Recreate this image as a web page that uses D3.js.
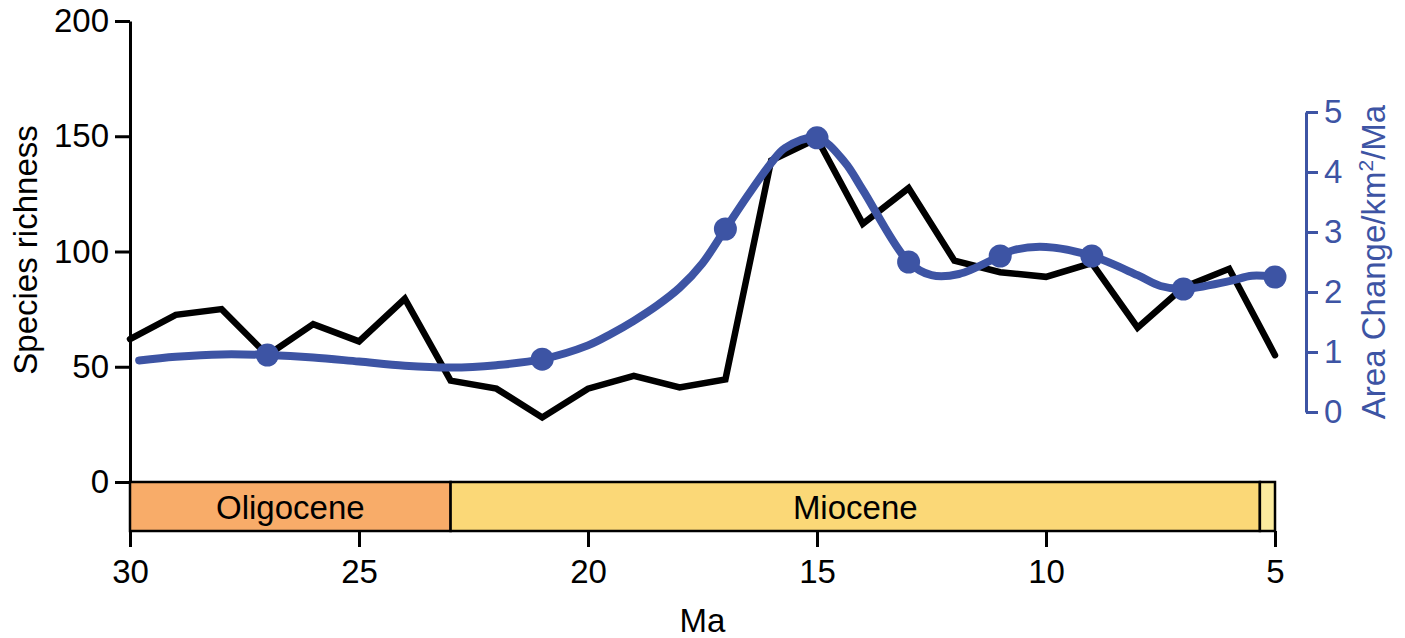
<!DOCTYPE html>
<html>
<head>
<meta charset="utf-8">
<script src="https://cdn.jsdelivr.net/npm/d3@7"></script>
<style>
  body { margin: 0; background: #fff; }
  svg text { font-family: "Liberation Sans", Arial, Helvetica, sans-serif; }
</style>
</head>
<body>
<div id="chart"></div>
<script>
// species richness, one value per Ma
var richAge = [30, 29, 28, 27, 26, 25, 24, 23, 22, 21, 20, 19, 18, 17, 16, 15, 14, 13, 12, 11, 10, 9, 8, 7, 6, 5];
var richness = [62, 72.5, 75, 55, 68.5, 61, 79.5, 44, 40.5, 28, 40.5, 46, 41, 44.5, 139.5, 149, 112, 127.5, 96, 91, 89, 95, 67, 84.5, 92.5, 55];

// area change curve (km2/Ma)
var areaAge = [29.8, 29, 28, 27, 26, 25, 24, 23, 22, 21, 20, 19.5, 19, 18.5, 18, 17.5, 17, 16.5, 16, 15.7, 15, 14.4, 14, 13, 12.5, 11.9, 11, 10.7, 10, 9, 8, 7.5, 7, 6, 5.5, 5];
var area = [0.86, 0.92, 0.96, 0.95, 0.91, 0.84, 0.77, 0.74, 0.78, 0.88, 1.11, 1.3, 1.52, 1.77, 2.07, 2.48, 3.05, 3.62, 4.15, 4.4, 4.57, 4.17, 3.7, 2.5, 2.28, 2.3, 2.6, 2.7, 2.75, 2.6, 2.28, 2.1, 2.05, 2.18, 2.27, 2.25];
var markerAge = [27, 21, 17, 15, 13, 11, 9, 7, 5];

// epochs
var epochNames = ['Oligocene', 'Miocene', ''];
var epochStart = [30, 23, 5.33];
var epochEnd = [23, 5.33, 5];
var epochColors = ['#F8AC69', '#FBD877', '#FBEB9E'];

var xTicks = [30, 25, 20, 15, 10, 5];
var leftTicks = [0, 50, 100, 150, 200];
var rightTicks = [0, 1, 2, 3, 4, 5];

var W = 1405, H = 638;
var blue = '#3D54A4';
var FS = 33;

var svg = d3.select('#chart').append('svg')
    .attr('width', W)
    .attr('height', H);

var x = d3.scaleLinear().domain([30, 5]).range([130, 1275]);
var yL = d3.scaleLinear().domain([0, 200]).range([482, 21]);
var yR = d3.scaleLinear().domain([0, 5]).range([412, 112]);

var barTop = yL(0), barBot = yL(0) + 49;

// epoch bar
var epochs = epochNames.map((n, i) => ({name: n, s: epochStart[i], e: epochEnd[i], c: epochColors[i]}));
svg.append('g').selectAll('rect')
    .data(epochs)
    .enter().append('rect')
    .attr('x', d => x(d.s))
    .attr('y', barTop)
    .attr('width', d => x(d.e) - x(d.s))
    .attr('height', barBot - barTop)
    .attr('fill', d => d.c)
    .attr('stroke', '#000')
    .attr('stroke-width', 2.5);
svg.append('g').selectAll('text')
    .data(epochs.filter(d => d.name))
    .enter().append('text')
    .attr('x', d => (x(d.s) + x(d.e)) / 2)
    .attr('y', (barTop + barBot) / 2 + 12)
    .attr('text-anchor', 'middle')
    .attr('font-size', FS)
    .text(d => d.name);

// x axis (ticks under the bar)
var gx = svg.append('g')
    .attr('transform', 'translate(0,' + barBot + ')')
    .call(d3.axisBottom(x).tickValues(xTicks).tickSize(16).tickPadding(13).tickFormat(d3.format('d')));
gx.select('.domain').remove();
gx.selectAll('line').attr('stroke', '#000').attr('stroke-width', 3);
gx.selectAll('text').attr('font-size', FS).attr('fill', '#000').style('font-family', '"Liberation Sans", Arial, sans-serif');

// left axis
var gl = svg.append('g')
    .attr('transform', 'translate(130,0)')
    .call(d3.axisLeft(yL).tickValues(leftTicks).tickSize(15).tickSizeOuter(0).tickPadding(6));
gl.select('.domain').attr('stroke', '#000').attr('stroke-width', 3);
gl.selectAll('line').attr('stroke', '#000').attr('stroke-width', 3);
gl.selectAll('text').attr('font-size', FS).attr('fill', '#000').style('font-family', '"Liberation Sans", Arial, sans-serif');

// right axis
var gr = svg.append('g')
    .attr('transform', 'translate(1306,0)')
    .call(d3.axisRight(yR).tickValues(rightTicks).tickSize(12).tickSizeOuter(0).tickPadding(6).tickFormat(d3.format('d')));
gr.select('.domain').attr('stroke', blue).attr('stroke-width', 3);
gr.selectAll('line').attr('stroke', blue).attr('stroke-width', 3);
gr.selectAll('text').attr('font-size', FS).attr('fill', blue).style('font-family', '"Liberation Sans", Arial, sans-serif');

// axis titles
svg.append('text')
    .attr('transform', 'translate(37,250) rotate(-90)')
    .attr('text-anchor', 'middle')
    .attr('font-size', FS)
    .text('Species richness');

svg.append('text')
    .attr('x', x(17.5))
    .attr('y', 632)
    .attr('text-anchor', 'middle')
    .attr('font-size', FS)
    .text('Ma');

var rt = svg.append('text')
    .attr('transform', 'translate(1385,262) rotate(-90)')
    .attr('text-anchor', 'middle')
    .attr('font-size', FS)
    .attr('fill', blue);
rt.append('tspan').text('Area Change/km');
rt.append('tspan').attr('dy', -12).attr('font-size', 21).text('2');
rt.append('tspan').attr('dy', 12).text('/Ma');

// richness line
var richData = richAge.map((a, i) => ({a: a, v: richness[i]}));
svg.append('path')
    .datum(richData)
    .attr('fill', 'none')
    .attr('stroke', '#000')
    .attr('stroke-width', 6.5)
    .attr('stroke-linejoin', 'miter')
    .attr('stroke-linecap', 'round')
    .attr('d', d3.line().x(d => x(d.a)).y(d => yL(d.v)));

// area change line
var areaData = areaAge.map((a, i) => ({a: a, v: area[i]}));
svg.append('path')
    .datum(areaData)
    .attr('fill', 'none')
    .attr('stroke', blue)
    .attr('stroke-width', 8)
    .attr('stroke-linejoin', 'round')
    .attr('stroke-linecap', 'round')
    .attr('d', d3.line().curve(d3.curveCatmullRom.alpha(0.5)).x(d => x(d.a)).y(d => yR(d.v)));

svg.append('g').selectAll('circle')
    .data(areaData.filter(d => markerAge.indexOf(d.a) >= 0))
    .enter().append('circle')
    .attr('cx', d => x(d.a))
    .attr('cy', d => yR(d.v))
    .attr('r', 11.5)
    .attr('fill', blue);
</script>
</body>
</html>
